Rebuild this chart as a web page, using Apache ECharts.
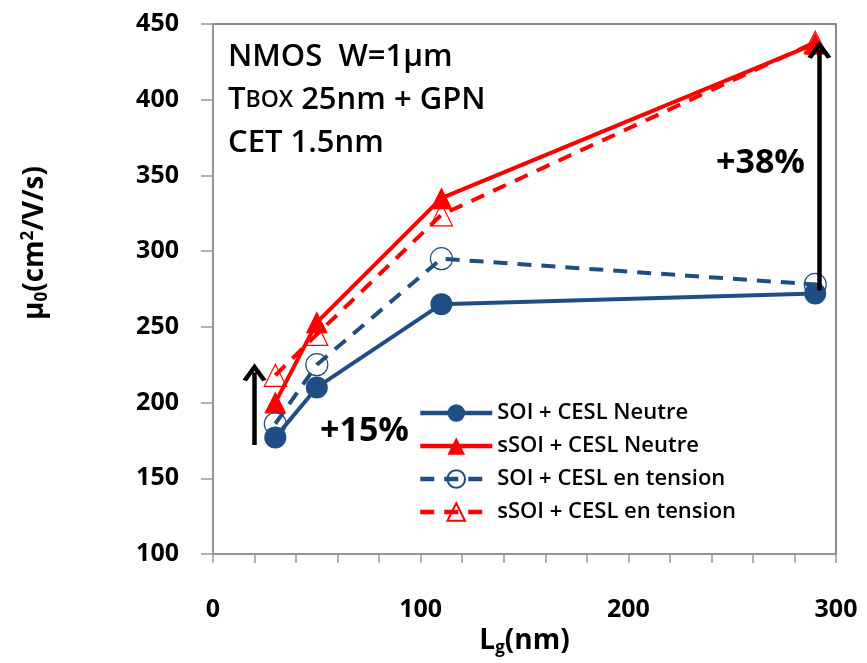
<!DOCTYPE html>
<html>
<head>
<meta charset="utf-8">
<script src="https://cdn.jsdelivr.net/npm/echarts@6/dist/echarts.min.js"></script>
<style>
  html, body { margin: 0; padding: 0; background: #fff; }
  #main { width: 867px; height: 663px; }
</style>
</head>
<body>
<div id="main"></div>
<script>
// Lg (nm) des 4 dispositifs
const lg = [30, 50, 110, 290];
// mobilite mu0 (cm2/V/s)
const soiNeutre = [177, 210, 265, 272];
const ssoiNeutre = [200, 253, 335, 437];
const soiTension = [186, 225, 295, 278];
const ssoiTension = [218, 245, 324, 438];
const seriesNames = ['SOI + CESL Neutre', 'sSOI + CESL Neutre', 'SOI + CESL en tension', 'sSOI + CESL en tension'];
// fleches (x, y bas, y haut) en coordonnees des donnees
const arrow15 = [20, 172, 220];
const arrow38 = [292, 274, 433];

const BLUE = '#1F4E85';
const RED = '#FF0000';
const FONT = 'Open Sans';
const chevron = 'path://M0,12 L6,0 L12,12 L9.8,13.2 L6,5.5 L2.2,13.2 Z';

function pts(ys) {
  return lg.map((x, i) => [x, ys[i]]);
}

function arrowLine(a) {
  return {
    silent: true,
    symbol: ['none', chevron],
    symbolSize: [24, 18],
    label: { show: false },
    lineStyle: { color: '#000', width: 4.5, type: 'solid' },
    data: [[{ coord: [a[0], a[1]] }, { coord: [a[0], a[2]] }]]
  };
}

var chart = echarts.init(document.getElementById('main'));

var option = {
  animation: false,
  textStyle: { fontFamily: FONT },
  grid: {
    left: 213, top: 24, right: 31, bottom: 109,
    show: true, borderColor: '#666', borderWidth: 1.5
  },
  legend: {
    orient: 'vertical',
    left: 413, top: 397,
    itemWidth: 72, itemHeight: 22, itemGap: 11,
    lineStyle: { width: 4.5 },
    textStyle: { fontFamily: FONT, fontSize: 22, fontWeight: 600, color: '#000' },
    data: seriesNames
  },
  xAxis: {
    type: 'value',
    min: 0, max: 300, interval: 20,
    name: 'L{sub|g}(nm)',
    nameLocation: 'middle',
    nameGap: 62,
    nameTextStyle: {
      fontFamily: FONT, fontSize: 28, fontWeight: 'bold', color: '#000',
      rich: {
        sub: { fontFamily: FONT, fontSize: 17, fontWeight: 'bold', color: '#000', verticalAlign: 'bottom', padding: [14, 0, 0, 0] }
      }
    },
    axisLine: { show: true, lineStyle: { color: '#999', width: 1.5 } },
    axisTick: { show: true, length: 9, lineStyle: { color: '#999', width: 1.5 } },
    splitLine: { show: false },
    axisLabel: {
      margin: 43,
      fontFamily: FONT, fontSize: 25, fontWeight: 'bold', color: '#000',
      formatter: v => (v % 100 === 0 ? String(v) : '')
    }
  },
  yAxis: {
    type: 'value',
    min: 100, max: 450, interval: 50,
    name: 'μ{sub|0}(cm{sup|2}/V/s)',
    nameLocation: 'middle',
    nameGap: 162,
    nameTextStyle: {
      fontFamily: FONT, fontSize: 28, fontWeight: 'bold', color: '#000',
      padding: [0, 0, 0, 92],
      rich: {
        sub: { fontFamily: FONT, fontSize: 17, fontWeight: 'bold', color: '#000', verticalAlign: 'bottom', padding: [14, 0, 0, 0] },
        sup: { fontFamily: FONT, fontSize: 17, fontWeight: 'bold', color: '#000', verticalAlign: 'top', padding: [0, 0, 12, 0] }
      }
    },
    axisLine: { show: true, lineStyle: { color: '#999', width: 1.5 } },
    axisTick: { show: true, length: 12, lineStyle: { color: '#999', width: 1.5 } },
    splitLine: { show: false },
    axisLabel: {
      margin: 34,
      fontFamily: FONT, fontSize: 25, fontWeight: 'bold', color: '#000'
    }
  },
  series: [
    {
      name: seriesNames[0],
      type: 'line',
      data: pts(soiNeutre),
      symbol: 'circle', symbolSize: 22,
      itemStyle: { color: BLUE },
      lineStyle: { color: BLUE, width: 4 },
      markLine: arrowLine(arrow15)
    },
    {
      name: seriesNames[1],
      type: 'line',
      data: pts(ssoiNeutre),
      symbol: 'triangle', symbolSize: 22,
      itemStyle: { color: RED },
      lineStyle: { color: RED, width: 4 },
      markLine: arrowLine(arrow38)
    },
    {
      name: seriesNames[2],
      type: 'line',
      data: pts(soiTension),
      symbol: 'circle', symbolSize: 22,
      itemStyle: { color: 'rgba(255,255,255,0)', borderColor: BLUE, borderWidth: 1.2 },
      lineStyle: { color: BLUE, width: 4, type: [14, 10] }
    },
    {
      name: seriesNames[3],
      type: 'line',
      data: pts(ssoiTension),
      symbol: 'triangle', symbolSize: 22,
      itemStyle: { color: 'rgba(255,255,255,0)', borderColor: RED, borderWidth: 1.2 },
      lineStyle: { color: RED, width: 4, type: [14, 10] }
    }
  ],
  graphic: [
    {
      type: 'text', left: 228, top: 36,
      style: {
        text: 'NMOS  W=1μm\nT{sc|BOX} 25nm + GPN\nCET 1.5nm',
        fontFamily: FONT, fontSize: 31, fontWeight: 600, lineHeight: 43, fill: '#000',
        rich: {
          sc: { fontFamily: FONT, fontSize: 23, fontWeight: 600, fill: '#000' }
        }
      }
    },
    {
      type: 'text', left: 320, top: 414,
      style: { text: '+15%', fontFamily: FONT, fontSize: 34, fontWeight: 'bold', fill: '#000' }
    },
    {
      type: 'text', left: 716, top: 146,
      style: { text: '+38%', fontFamily: FONT, fontSize: 34, fontWeight: 'bold', fill: '#000' }
    }
  ]
};

chart.setOption(option);
</script>
</body>
</html>
